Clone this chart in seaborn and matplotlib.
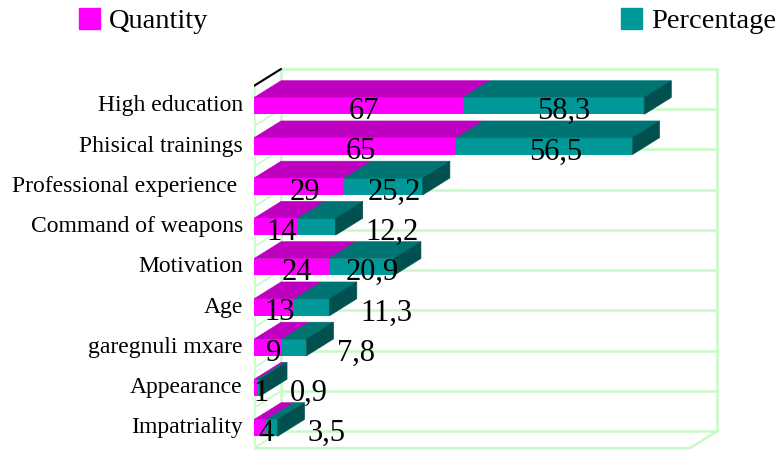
import pandas as pd
import seaborn as sns
import matplotlib.pyplot as plt
from matplotlib.patches import Polygon, Patch

# Data
categories = ['High education', 'Phisical trainings', 'Professional experience ',
              'Command of weapons', 'Motivation', 'Age', 'garegnuli mxare',
              'Appearance', 'Impatriality']
quantity = [67, 65, 29, 14, 24, 13, 9, 1, 4]
percentage = [58.3, 56.5, 25.2, 12.2, 20.9, 11.3, 7.8, 0.9, 3.5]
quantity_labels = ['67', '65', '29', '14', '24', '13', '9', '1', '4']
percentage_labels = ['58,3', '56,5', '25,2', '12,2', '20,9', '11,3', '7,8', '0,9', '3,5']

MAGENTA = '#FF00FF'
MAGENTA_TOP = '#C000C0'
TEAL = '#009999'
TEAL_TOP = '#007373'
TEAL_SIDE = '#005050'
GRID = '#C8FAC8'

X_MAX = 140          # value axis max (front plane)
BAR_H = 0.415        # bar thickness in category units
DX = 8.7             # 3D depth, value units
DY = 0.42            # 3D depth, category units
PX_PER_UNIT = 3.114

df = pd.DataFrame({'category': categories, 'quantity': quantity, 'percentage': percentage})
df['total'] = df['quantity'] + df['percentage']

sns.set_style('white')
plt.rcParams['font.family'] = ['Liberation Serif', 'DejaVu Serif']
plt.rcParams['text.color'] = 'black'
plt.rcParams['ytick.labelcolor'] = 'black'

fig = plt.figure(figsize=(7.84, 4.5), dpi=100)
ax = fig.add_axes([254 / 784, 0, 530 / 784, 395 / 450])

# back wall / side wall / floor
n = len(categories)
bounds = [i - 0.5 for i in range(n + 1)]
for b in bounds:
    ax.plot([DX, X_MAX + DX], [b - DY, b - DY], color=GRID, lw=1.8, zorder=1)
    ax.plot([0, DX], [b, b - DY], color=GRID, lw=1.3, zorder=1)
ax.plot([0, 0], [bounds[0], bounds[-1]], color=GRID, lw=1.8, zorder=1)
ax.plot([DX, DX], [bounds[0] - DY, bounds[-1] - DY], color=GRID, lw=1.8, zorder=1)
ax.plot([X_MAX + DX, X_MAX + DX], [bounds[0] - DY, bounds[-1] - DY], color=GRID, lw=1.8, zorder=1)
ax.plot([0, X_MAX, X_MAX + DX], [bounds[-1], bounds[-1], bounds[-1] - DY], color=GRID, lw=1.8, zorder=1)
ax.plot([0, DX], [bounds[0], bounds[0] - DY], color='black', lw=1.5, zorder=2)

# front faces, stacked
sns.barplot(data=df, x='total', y='category', color=TEAL, width=BAR_H, linewidth=0,
            saturation=1, errorbar=None, ax=ax, zorder=3)
sns.barplot(data=df, x='quantity', y='category', color=MAGENTA, width=BAR_H, linewidth=0,
            saturation=1, errorbar=None, ax=ax, zorder=4)

# top and side faces
for i, (q, p) in enumerate(zip(quantity, percentage)):
    yt = i - BAR_H / 2
    yb = i + BAR_H / 2
    t = q + p
    ax.add_patch(Polygon([(0, yt), (q, yt), (q + DX, yt - DY), (DX, yt - DY)],
                         closed=True, fc=MAGENTA_TOP, ec=MAGENTA_TOP, lw=0.5, zorder=3))
    ax.add_patch(Polygon([(q, yt), (t, yt), (t + DX, yt - DY), (q + DX, yt - DY)],
                         closed=True, fc=TEAL_TOP, ec=TEAL_TOP, lw=0.5, zorder=3))
    ax.add_patch(Polygon([(t, yt), (t, yb), (t + DX, yb - DY), (t + DX, yt - DY)],
                         closed=True, fc=TEAL_SIDE, ec=TEAL_SIDE, lw=0.5, zorder=3))

# value labels
for i, (q, p) in enumerate(zip(quantity, percentage)):
    ax.text(q / 2 + DX * 0.2, i + 0.14, quantity_labels[i], ha='center', va='center',
            fontsize=22, zorder=6, clip_on=False)
    if p * PX_PER_UNIT > 50:
        ax.text(q + p / 2 + DX * 0.4, i + 0.14, percentage_labels[i], ha='center',
                va='center', fontsize=22, zorder=6, clip_on=False)
    else:
        ax.text(q + p + DX + 1, i + 0.14, percentage_labels[i], ha='left',
                va='center', fontsize=22, zorder=6, clip_on=False)

ax.set_xlim(0, 530 / PX_PER_UNIT)
ax.set_ylim((450 - 106) / 40.25, (55 - 106) / 40.25)
ax.set_xlabel('')
ax.set_ylabel('')
ax.set_xticks([])
ax.set_yticks(range(n))
ax.set_yticklabels(categories, fontsize=17, va='center')
ax.tick_params(axis='y', which='major', length=0, pad=8)
ax.set_yticks(bounds, minor=True)
ax.tick_params(axis='y', which='minor', length=5, width=1.2, color=GRID)
for s in ax.spines.values():
    s.set_visible(False)

# legend
leg_kw = dict(loc='center left', frameon=False, fontsize=20.5, handlelength=0.75,
              handleheight=0.75, handletextpad=0.3, borderpad=0, borderaxespad=0)
fig.legend(handles=[Patch(color=MAGENTA)], labels=['Quantity'],
           bbox_to_anchor=(79 / 784, 1 - 21 / 450), **leg_kw)
fig.legend(handles=[Patch(color=TEAL)], labels=['Percentage'],
           bbox_to_anchor=(621 / 784, 1 - 21 / 450), **leg_kw)

fig.savefig('out.png', dpi=100)
